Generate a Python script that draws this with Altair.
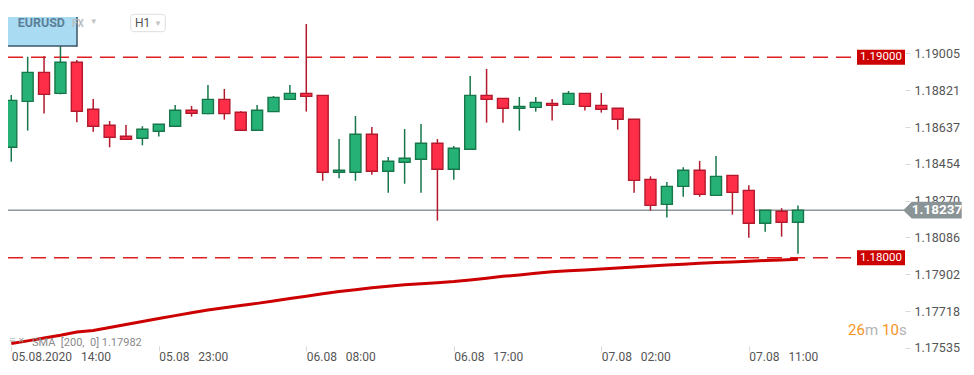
import json
import altair as alt
import pandas as pd

# ---- data (EURUSD, H1, 05.08.2020 14:00 -> 07.08.2020 14:00) ----
opens = [1.18551, 1.18780, 1.18925, 1.18820, 1.18975, 1.18741, 1.18661, 1.18606, 1.18596, 1.18631,
         1.18656, 1.18736, 1.18719, 1.18790, 1.18726, 1.18636, 1.18729, 1.18790, 1.18820, 1.18810,
         1.18426, 1.18426, 1.18616, 1.18431, 1.18476, 1.18491, 1.18571, 1.18441, 1.18541, 1.18810,
         1.18795, 1.18746, 1.18750, 1.18770, 1.18765, 1.18820, 1.18760, 1.18746, 1.18691, 1.18391,
         1.18266, 1.18356, 1.18436, 1.18311, 1.18411, 1.18336, 1.18172, 1.18232, 1.18177]
highs = [1.18812, 1.19003, 1.19005, 1.19060, 1.18987, 1.18792, 1.18682, 1.18662, 1.18656, 1.18667,
         1.18762, 1.18757, 1.18862, 1.18842, 1.18731, 1.18762, 1.18807, 1.18862, 1.19166, 1.18810,
         1.18592, 1.18707, 1.18652, 1.18502, 1.18642, 1.18667, 1.18592, 1.18557, 1.18907, 1.18942,
         1.18795, 1.18802, 1.18802, 1.18792, 1.18832, 1.18820, 1.18822, 1.18746, 1.18691, 1.18406,
         1.18378, 1.18451, 1.18483, 1.18507, 1.18411, 1.18361, 1.18237, 1.18247, 1.18261]
lows = [1.18479, 1.18634, 1.18719, 1.18815, 1.18676, 1.18629, 1.18551, 1.18590, 1.18561, 1.18605,
        1.18656, 1.18704, 1.18716, 1.18689, 1.18636, 1.18636, 1.18729, 1.18790, 1.18729, 1.18384,
        1.18396, 1.18384, 1.18414, 1.18324, 1.18369, 1.18324, 1.18185, 1.18389, 1.18541, 1.18674,
        1.18674, 1.18634, 1.18729, 1.18684, 1.18765, 1.18734, 1.18724, 1.18639, 1.18324, 1.18235,
        1.18200, 1.18304, 1.18304, 1.18311, 1.18215, 1.18100, 1.18130, 1.18105, 1.18020]
closes = [1.18785, 1.18925, 1.18815, 1.18975, 1.18731, 1.18656, 1.18601, 1.18591, 1.18641, 1.18666,
          1.18736, 1.18721, 1.18790, 1.18719, 1.18636, 1.18736, 1.18800, 1.18820, 1.18805, 1.18426,
          1.18436, 1.18616, 1.18431, 1.18481, 1.18496, 1.18571, 1.18441, 1.18546, 1.18810, 1.18790,
          1.18746, 1.18755, 1.18775, 1.18760, 1.18820, 1.18755, 1.18741, 1.18691, 1.18386, 1.18261,
          1.18356, 1.18436, 1.18316, 1.18406, 1.18326, 1.18172, 1.18237, 1.18177, 1.18237]
sma = [1.17572, 1.17585, 1.17599, 1.17613, 1.17629, 1.17637, 1.17652, 1.17667, 1.17682, 1.17697,
       1.17711, 1.17725, 1.17739, 1.17750, 1.17761, 1.17772, 1.17784, 1.17796, 1.17808, 1.17820,
       1.17831, 1.17840, 1.17850, 1.17858, 1.17865, 1.17870, 1.17875, 1.17881, 1.17889, 1.17898,
       1.17907, 1.17914, 1.17922, 1.17930, 1.17935, 1.17939, 1.17944, 1.17949, 1.17953, 1.17958,
       1.17963, 1.17967, 1.17972, 1.17976, 1.17979, 1.17982, 1.17986, 1.17989, 1.17992]

x_tick_idx = [0, 9, 18, 27, 36, 45]
x_tick_labels = ["05.08.2020\u00a0\u00a0\u00a014:00", "05.08\u00a0\u00a0\u00a023:00", "06.08\u00a0\u00a0\u00a008:00",
                 "06.08\u00a0\u00a0\u00a017:00", "07.08\u00a0\u00a0\u00a002:00", "07.08\u00a0\u00a0\u00a011:00"]
y_ticks = [1.19005, 1.18821, 1.18637, 1.18454, 1.18270, 1.18086, 1.17902, 1.17718, 1.17535]
level_prices = [1.19000, 1.18000]
level_labels = ["1.19000", "1.18000"]
current_price = 1.18237
current_label = "1.18237"
sma_label = "SMA\u00a0\u00a0[200,\u00a0\u00a00]\u00a01.17982"

n = len(opens)
df = pd.DataFrame({
    "i": list(range(n)), "open": opens, "high": highs, "low": lows, "close": closes, "sma": sma,
})
df["dir"] = ["up" if c >= o else "down" for o, c in zip(opens, closes)]

W, H = 897, 344
FONT = "Roboto"
xs = alt.Scale(domain=[-0.2, 54.53], nice=False, zero=False, padding=0)
ys = alt.Scale(domain=[1.175294, 1.192460], nice=False, zero=False, padding=0)

fill_scale = alt.Scale(domain=["up", "down"], range=["#26b276", "#ff2e48"])
stroke_scale = alt.Scale(domain=["up", "down"], range=["#17774a", "#b3192d"])

x_axis = alt.Axis(values=x_tick_idx, labelExpr=f"{json.dumps(x_tick_labels)}[datum.value / 9]",
                  title=None, domain=False, grid=False, tickColor="#d9d9d9", tickSize=5,
                  labelAlign="left", labelFlush=False, labelPadding=0, labelFontSize=12,
                  labelColor="#555555", labelFont=FONT, offset=-6)
y_axis = alt.Axis(orient="right", values=y_ticks, format=".5f", title=None, domain=False, grid=False,
                  tickColor="#d9d9d9", tickSize=5, tickOffset=-3, labelPadding=4, labelFontSize=12.5,
                  labelColor="#555555", labelFont=FONT, labelOverlap=False, labelBound=False)

base = alt.Chart(df)

# reference price levels
levels_df = pd.DataFrame({"p": level_prices, "t": level_labels})
levels = alt.Chart(levels_df).mark_rule(color="#dd1f1f", strokeWidth=1.4, strokeDash=[15, 8]).encode(
    y=alt.Y("p:Q", scale=ys, axis=y_axis), x=alt.value(0), x2=alt.value(849))
level_box = alt.Chart(levels_df).mark_point(
    shape="M-1,-0.3125H1V0.3125H-1Z", filled=True, opacity=1, color="#cc0000", size=2304
).encode(y=alt.Y("p:Q", scale=ys), x=alt.value(873))
level_txt = alt.Chart(levels_df).mark_text(color="white", fontSize=11.5, font=FONT).encode(
    y=alt.Y("p:Q", scale=ys), x=alt.value(873), text="t:N")

cur_df = pd.DataFrame({"p": [current_price], "t": [current_label]})
cur_line = alt.Chart(cur_df).mark_rule(color="#8e979b", strokeWidth=1.5).encode(
    y=alt.Y("p:Q", scale=ys), x=alt.value(0), x2=alt.value(897))

sma_line = base.mark_line(color="#cc0000", strokeWidth=3).encode(
    x=alt.X("i:Q", scale=xs, axis=x_axis), y=alt.Y("sma:Q", scale=ys))

wicks = base.mark_rule(strokeWidth=1.5).encode(
    x=alt.X("i:Q", scale=xs), y=alt.Y("low:Q", scale=ys), y2="high:Q",
    stroke=alt.Stroke("dir:N", scale=stroke_scale, legend=None))
bodies = base.mark_bar(size=11, strokeWidth=1.4).encode(
    x=alt.X("i:Q", scale=xs), y=alt.Y("open:Q", scale=ys), y2="close:Q",
    fill=alt.Fill("dir:N", scale=fill_scale, legend=None),
    stroke=alt.Stroke("dir:N", scale=stroke_scale, legend=None))

cur_box = alt.Chart(cur_df).mark_point(
    shape="M-1,-0.334H1V0.334H-1L-1.336,0Z", filled=True, opacity=1, color="#8a9396", size=2500
).encode(y=alt.Y("p:Q", scale=ys), x=alt.value(928.7))
cur_txt = alt.Chart(cur_df).mark_text(color="white", fontSize=13.5, fontWeight="bold", font=FONT).encode(
    y=alt.Y("p:Q", scale=ys), x=alt.value(929), text="t:N")


def txt(s, x, y, **kw):
    return alt.Chart(pd.DataFrame({"t": [s]})).mark_text(font=FONT, **kw).encode(
        x=alt.value(x), y=alt.value(y), text="t:N")


one = pd.DataFrame({"a": [0]})
sym_box = alt.Chart(one).mark_rect(fill="#a9dbf3").encode(
    x=alt.value(-6), x2=alt.value(69), y=alt.value(9), y2=alt.value(38))
sym_edge_r = alt.Chart(one).mark_rule(color="#3b5566", strokeWidth=1.5).encode(
    x=alt.value(69), y=alt.value(9), y2=alt.value(38.7))
sym_edge_b = alt.Chart(one).mark_rule(color="#3b5566", strokeWidth=1.5).encode(
    x=alt.value(-6), x2=alt.value(69), y=alt.value(38))
tf_box = alt.Chart(one).mark_rect(fill="white", stroke="#dddddd", strokeWidth=1, cornerRadius=3).encode(
    x=alt.value(122.7), x2=alt.value(157.3), y=alt.value(6.3), y2=alt.value(23.7))

layers = [
    levels, cur_line, sma_line, wicks, bodies,
    level_box, level_txt, cur_box, cur_txt,
    sym_box, sym_edge_r, sym_edge_b,
    txt("EURUSD", 33.3, 15.3, fontSize=12.5, fontWeight="bold", color="#5b7f98"),
    txt("FX", 70, 16, fontSize=10, fontWeight="bold", color="#b9bfc4"),
    txt("\u25bc", 85.7, 13.7, fontSize=8, color="#c4c4c4"),
    tf_box,
    txt("H1", 127, 15.3, fontSize=12, color="#555555", align="left"),
    txt("\u25bc", 150, 16, fontSize=8, color="#c4c4c4"),
    txt("26", 840, 322, fontSize=15, color="#f7941d", align="left"),
    txt("m", 857, 322, fontSize=15, color="#b3b3b3", align="left"),
    txt("10", 874, 322, fontSize=15, color="#f7941d", align="left"),
    txt("s", 891, 322, fontSize=15, color="#b3b3b3", align="left"),
    txt("\u2261", 4, 333, fontSize=11, color="#9a9a9a"),
    txt("\u2715", 13, 333, fontSize=8, color="#9a9a9a"),
    txt(sma_label, 24, 334.5, fontSize=11, color="#8a8a8a", align="left"),
]

chart = alt.layer(*layers).properties(
    width=W, height=H,
    autosize=alt.AutoSizeParams(type="none"),
    padding={"left": 0, "top": 0, "right": 60, "bottom": 12},
).configure(background="white").configure_view(stroke=None)

chart.save("out.html", embed_options={"renderer": "svg", "actions": False})
